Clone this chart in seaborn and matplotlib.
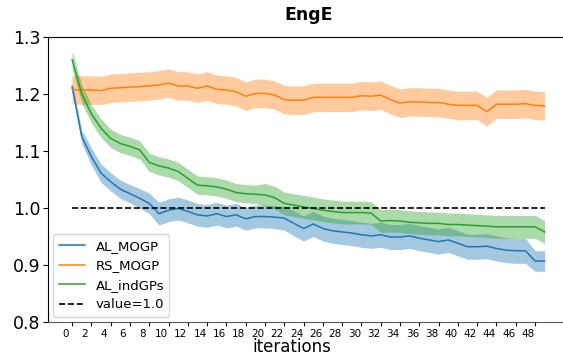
import matplotlib
matplotlib.use("Agg")
import pandas as pd
import seaborn as sns
from matplotlib import pyplot as plt
from matplotlib import transforms

iterations = list(range(50))

al_mogp = [1.213, 1.125, 1.090, 1.061, 1.046, 1.033, 1.025, 1.017, 1.008, 0.990,
           0.996, 0.999, 0.994, 0.988, 0.986, 0.990, 0.985, 0.988, 0.981, 0.985,
           0.985, 0.984, 0.982, 0.973, 0.964, 0.972, 0.964, 0.960, 0.958, 0.956,
           0.953, 0.951, 0.953, 0.949, 0.949, 0.951, 0.947, 0.944, 0.941, 0.944,
           0.938, 0.932, 0.932, 0.933, 0.929, 0.926, 0.925, 0.925, 0.907, 0.907]
al_mogp_err = [0.008, 0.012, 0.015, 0.016, 0.016, 0.016, 0.016, 0.017, 0.018, 0.020,
               0.020, 0.020, 0.020, 0.020, 0.020, 0.020, 0.020, 0.020, 0.020, 0.020,
               0.020, 0.020, 0.021, 0.022, 0.022, 0.022, 0.022, 0.022, 0.022, 0.022,
               0.022, 0.022, 0.022, 0.022, 0.022, 0.022, 0.022, 0.022, 0.022, 0.022,
               0.022, 0.022, 0.022, 0.022, 0.022, 0.022, 0.022, 0.022, 0.018, 0.018]

rs_mogp = [1.208, 1.207, 1.207, 1.206, 1.210, 1.211, 1.212, 1.213, 1.214, 1.216,
           1.219, 1.214, 1.214, 1.210, 1.214, 1.208, 1.207, 1.204, 1.196, 1.201,
           1.201, 1.198, 1.190, 1.189, 1.189, 1.194, 1.194, 1.194, 1.194, 1.194,
           1.197, 1.196, 1.198, 1.190, 1.184, 1.186, 1.186, 1.185, 1.185, 1.182,
           1.180, 1.180, 1.180, 1.169, 1.182, 1.182, 1.182, 1.183, 1.180, 1.179]
rs_mogp_err = [0.025] * 50

al_indgps = [1.260, 1.200, 1.165, 1.140, 1.122, 1.113, 1.108, 1.102, 1.080, 1.074,
             1.070, 1.064, 1.052, 1.040, 1.039, 1.037, 1.033, 1.027, 1.025, 1.024,
             1.023, 1.018, 1.008, 1.005, 1.002, 0.999, 0.996, 0.994, 0.992, 0.992,
             0.992, 0.991, 0.977, 0.978, 0.977, 0.975, 0.974, 0.973, 0.973, 0.971,
             0.971, 0.970, 0.969, 0.968, 0.967, 0.967, 0.967, 0.967, 0.967, 0.958]
al_indgps_err = [0.016] * 20 + [0.020] * 30

methods = ["AL_MOGP", "RS_MOGP", "AL_indGPs"]
reference_value = 1.0
x_ticks = list(range(0, 49, 2))
y_ticks = [0.8, 0.9, 1.0, 1.1, 1.2, 1.3]

colors = {"AL_MOGP": "#1f77b4", "RS_MOGP": "#ff7f0e", "AL_indGPs": "#2ca02c"}

# long-format frame for seaborn
series = {"AL_MOGP": (al_mogp, al_mogp_err),
          "RS_MOGP": (rs_mogp, rs_mogp_err),
          "AL_indGPs": (al_indgps, al_indgps_err)}
rows = []
for name, (vals, errs) in series.items():
    for it, v, e in zip(iterations, vals, errs):
        rows.append({"iteration": it, "value": v, "err": e, "method": name})
df = pd.DataFrame(rows)

fig = plt.figure(figsize=(5.63, 3.6), dpi=100)
ax = fig.add_axes([0.0853, 0.1056, 0.925, 0.7917])

sns.lineplot(data=df, x="iteration", y="value", hue="method",
             hue_order=methods, palette=colors, errorbar=None,
             linewidth=1.1, ax=ax)

# shaded bands
for name in methods:
    d = df[df["method"] == name]
    ax.fill_between(d["iteration"], d["value"] - d["err"],
                    d["value"] + d["err"], color=colors[name],
                    alpha=0.4, linewidth=0)

ax.hlines(reference_value, iterations[0], iterations[-1], colors="black",
          linestyles="--", linewidth=1.2, label=f"value={reference_value}")

ax.set_xlim(-2.5, 51.5)
ax.set_ylim(0.8, 1.3)
ax.set_xticks(x_ticks)
ax.set_yticks(y_ticks)
ax.set_yticklabels([f"{t:.1f}" for t in y_ticks])
ax.tick_params(axis="x", labelsize=7.5, length=3, pad=2)
ax.tick_params(axis="y", labelsize=12.5, length=3.5, pad=2)
ax.spines["right"].set_visible(False)
ax.spines["bottom"].set_color("#555555")

# tick labels in the reference sit a bit left of their ticks
shift = transforms.ScaledTranslation(-0.07, 0, fig.dpi_scale_trans)
for lab in ax.get_xticklabels():
    lab.set_transform(lab.get_transform() + shift)

ax.set_title("EngE", fontsize=12.5, fontweight="bold", pad=12)
ax.set_xlabel("iterations", fontsize=12)
ax.xaxis.set_label_coords(0.468, -0.055)
ax.set_ylabel("")

handles, labels = ax.get_legend_handles_labels()
ax.legend(handles, labels, loc="lower left", fontsize=9.5,
          borderaxespad=0.4, handlelength=2.0, framealpha=0.8)

fig.savefig("out.png", dpi=100)
